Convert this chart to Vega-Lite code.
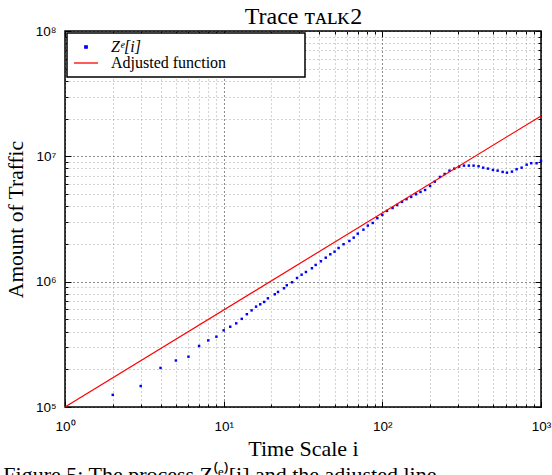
{
  "$schema": "https://vega.github.io/schema/vega-lite/v6.json",
  "width": 476,
  "height": 376,
  "autosize": {"type": "none"},
  "padding": {"left": 65, "top": 31, "right": 11, "bottom": 68},
  "background": "white",
  "title": {
    "text": "Figure 5: The process Z⁽ᵉ⁾[i] and the adjusted line",
    "orient": "bottom",
    "anchor": "start",
    "frame": "bounds",
    "font": "Liberation Serif",
    "fontSize": 22,
    "fontWeight": "normal",
    "color": "black",
    "offset": 5,
    "dx": -2
  },
  "config": {
    "view": {"stroke": "black", "strokeWidth": 1.5},
    "legend": {
      "orient": "none",
      "legendX": 2,
      "legendY": 2,
      "padding": 6,
      "fillColor": "white",
      "strokeColor": "black",
      "symbolSize": 576,
      "symbolOffset": 5,
      "clipHeight": 16,
      "rowPadding": 0,
      "labelOffset": 17,
      "labelFont": "Liberation Serif",
      "labelFontSize": 16,
      "labelColor": "black",
      "labelLimit": 600
    }
  },
  "datasets": {
    "trace": [
      {"i": 2, "traffic": 125000, "series": "Zᵉ[i]"},
      {"i": 3, "traffic": 147000, "series": "Zᵉ[i]"},
      {"i": 4, "traffic": 205000, "series": "Zᵉ[i]"},
      {"i": 5, "traffic": 235000, "series": "Zᵉ[i]"},
      {"i": 6, "traffic": 252000, "series": "Zᵉ[i]"},
      {"i": 7, "traffic": 307000, "series": "Zᵉ[i]"},
      {"i": 8, "traffic": 340000, "series": "Zᵉ[i]"},
      {"i": 9, "traffic": 364000, "series": "Zᵉ[i]"},
      {"i": 10, "traffic": 409000, "series": "Zᵉ[i]"},
      {"i": 11, "traffic": 437000, "series": "Zᵉ[i]"},
      {"i": 12, "traffic": 465000, "series": "Zᵉ[i]"},
      {"i": 13, "traffic": 505000, "series": "Zᵉ[i]"},
      {"i": 14, "traffic": 550000, "series": "Zᵉ[i]"},
      {"i": 15, "traffic": 590000, "series": "Zᵉ[i]"},
      {"i": 16, "traffic": 632000, "series": "Zᵉ[i]"},
      {"i": 17, "traffic": 660000, "series": "Zᵉ[i]"},
      {"i": 18, "traffic": 689000, "series": "Zᵉ[i]"},
      {"i": 19, "traffic": 737000, "series": "Zᵉ[i]"},
      {"i": 21, "traffic": 793000, "series": "Zᵉ[i]"},
      {"i": 22, "traffic": 828000, "series": "Zᵉ[i]"},
      {"i": 24, "traffic": 886000, "series": "Zᵉ[i]"},
      {"i": 25, "traffic": 936000, "series": "Zᵉ[i]"},
      {"i": 27, "traffic": 989000, "series": "Zᵉ[i]"},
      {"i": 29, "traffic": 1070000, "series": "Zᵉ[i]"},
      {"i": 31, "traffic": 1137000, "series": "Zᵉ[i]"},
      {"i": 33, "traffic": 1195000, "series": "Zᵉ[i]"},
      {"i": 36, "traffic": 1280000, "series": "Zᵉ[i]"},
      {"i": 38, "traffic": 1360000, "series": "Zᵉ[i]"},
      {"i": 41, "traffic": 1455000, "series": "Zᵉ[i]"},
      {"i": 44, "traffic": 1554000, "series": "Zᵉ[i]"},
      {"i": 47, "traffic": 1654000, "series": "Zᵉ[i]"},
      {"i": 50, "traffic": 1735000, "series": "Zᵉ[i]"},
      {"i": 53, "traffic": 1857000, "series": "Zᵉ[i]"},
      {"i": 57, "traffic": 1989000, "series": "Zᵉ[i]"},
      {"i": 62, "traffic": 2112000, "series": "Zᵉ[i]"},
      {"i": 66, "traffic": 2245000, "series": "Zᵉ[i]"},
      {"i": 70, "traffic": 2416000, "series": "Zᵉ[i]"},
      {"i": 76, "traffic": 2600000, "series": "Zᵉ[i]"},
      {"i": 81, "traffic": 2800000, "series": "Zᵉ[i]"},
      {"i": 87, "traffic": 2940000, "series": "Zᵉ[i]"},
      {"i": 93, "traffic": 3210000, "series": "Zᵉ[i]"},
      {"i": 100, "traffic": 3410000, "series": "Zᵉ[i]"},
      {"i": 107, "traffic": 3670000, "series": "Zᵉ[i]"},
      {"i": 116, "traffic": 3870000, "series": "Zᵉ[i]"},
      {"i": 124, "traffic": 4090000, "series": "Zᵉ[i]"},
      {"i": 133, "traffic": 4330000, "series": "Zᵉ[i]"},
      {"i": 142, "traffic": 4550000, "series": "Zᵉ[i]"},
      {"i": 152, "traffic": 4740000, "series": "Zᵉ[i]"},
      {"i": 163, "traffic": 4980000, "series": "Zᵉ[i]"},
      {"i": 174, "traffic": 5200000, "series": "Zᵉ[i]"},
      {"i": 186, "traffic": 5390000, "series": "Zᵉ[i]"},
      {"i": 200, "traffic": 5800000, "series": "Zᵉ[i]"},
      {"i": 214, "traffic": 6280000, "series": "Zᵉ[i]"},
      {"i": 231, "traffic": 6850000, "series": "Zᵉ[i]"},
      {"i": 247, "traffic": 7230000, "series": "Zᵉ[i]"},
      {"i": 265, "traffic": 7690000, "series": "Zᵉ[i]"},
      {"i": 284, "traffic": 7980000, "series": "Zᵉ[i]"},
      {"i": 305, "traffic": 8280000, "series": "Zᵉ[i]"},
      {"i": 327, "traffic": 8430000, "series": "Zᵉ[i]"},
      {"i": 351, "traffic": 8430000, "series": "Zᵉ[i]"},
      {"i": 376, "traffic": 8430000, "series": "Zᵉ[i]"},
      {"i": 404, "traffic": 8340000, "series": "Zᵉ[i]"},
      {"i": 432, "traffic": 8120000, "series": "Zᵉ[i]"},
      {"i": 463, "traffic": 7980000, "series": "Zᵉ[i]"},
      {"i": 498, "traffic": 7790000, "series": "Zᵉ[i]"},
      {"i": 533, "traffic": 7690000, "series": "Zᵉ[i]"},
      {"i": 573, "traffic": 7510000, "series": "Zᵉ[i]"},
      {"i": 610, "traffic": 7410000, "series": "Zᵉ[i]"},
      {"i": 656, "traffic": 7550000, "series": "Zᵉ[i]"},
      {"i": 702, "traffic": 7890000, "series": "Zᵉ[i]"},
      {"i": 755, "traffic": 8120000, "series": "Zᵉ[i]"},
      {"i": 812, "traffic": 8580000, "series": "Zᵉ[i]"},
      {"i": 868, "traffic": 8810000, "series": "Zᵉ[i]"},
      {"i": 938, "traffic": 8810000, "series": "Zᵉ[i]"},
      {"i": 1000, "traffic": 9190000, "series": "Zᵉ[i]"}
    ],
    "fit": [
      {"i": 1, "traffic": 100000, "series": "Adjusted function"},
      {"i": 1000, "traffic": 21000000, "series": "Adjusted function"}
    ]
  },
  "layer": [
    {
      "data": {"name": "trace"},
      "mark": {"type": "square", "filled": true, "size": 6, "opacity": 1},
      "encoding": {
        "x": {
          "field": "i",
          "type": "quantitative",
          "scale": {"type": "log", "domain": [1, 1000], "nice": false},
          "axis": {
            "orient": "bottom",
            "values": [1, 2, 3, 4, 5, 6, 7, 8, 9, 10, 20, 30, 40, 50, 60, 70, 80, 90, 100, 200, 300, 400, 500, 600, 700, 800, 900, 1000],
            "labelExpr": "datum.value === 1 ? '10⁰' : datum.value === 10 ? '10¹' : datum.value === 100 ? '10²' : datum.value === 1000 ? '10³' : ''",
            "domain": false,
            "grid": true,
            "gridColor": {"condition": {"test": "indexof([1, 10, 100, 1000], datum.value) >= 0", "value": "#000000"}, "value": "#9a9a9a"},
            "gridDash": [1, 3],
            "gridWidth": 0.9,
            "tickColor": "black",
            "tickWidth": 1,
            "tickSize": {"condition": {"test": "indexof([1, 10, 100, 1000], datum.value) >= 0", "value": -6}, "value": -3},
            "labelFont": "Liberation Sans",
            "labelFontSize": 13.5,
            "labelColor": "black",
            "labelPadding": 18,
            "labelFlush": false,
            "labelOverlap": false,
            "title": "Time Scale i",
            "titleFont": "Liberation Serif",
            "titleFontSize": 22,
            "titleFontWeight": "normal",
            "titleColor": "black",
            "titlePadding": 3
          }
        },
        "y": {
          "field": "traffic",
          "type": "quantitative",
          "scale": {"type": "log", "domain": [100000, 100000000], "nice": false},
          "axis": {
            "orient": "left",
            "values": [100000, 200000, 300000, 400000, 500000, 600000, 700000, 800000, 900000, 1000000, 2000000, 3000000, 4000000, 5000000, 6000000, 7000000, 8000000, 9000000, 10000000, 20000000, 30000000, 40000000, 50000000, 60000000, 70000000, 80000000, 90000000, 100000000],
            "labelExpr": "datum.value === 100000 ? '10⁵' : datum.value === 1000000 ? '10⁶' : datum.value === 10000000 ? '10⁷' : datum.value === 100000000 ? '10⁸' : ''",
            "domain": false,
            "grid": true,
            "gridColor": {"condition": {"test": "indexof([100000, 1000000, 10000000, 100000000], datum.value) >= 0", "value": "#000000"}, "value": "#9a9a9a"},
            "gridDash": [1, 3],
            "gridWidth": 0.9,
            "tickColor": "black",
            "tickWidth": 1,
            "tickSize": {"condition": {"test": "indexof([100000, 1000000, 10000000, 100000000], datum.value) >= 0", "value": -6}, "value": -3},
            "labelFont": "Liberation Sans",
            "labelFontSize": 13.5,
            "labelColor": "black",
            "labelPadding": 15,
            "labelFlush": false,
            "labelOverlap": false,
            "title": "Amount of Traffic",
            "titleFont": "Liberation Serif",
            "titleFontSize": 21.5,
            "titleFontWeight": "normal",
            "titleColor": "black",
            "titlePadding": 8
          }
        },
        "color": {
          "field": "series",
          "type": "nominal",
          "scale": {"domain": ["Zᵉ[i]", "Adjusted function"], "range": ["#0000ff", "#ff0000"]},
          "legend": {
            "title": null,
            "encode": {
              "legend": {"update": {"strokeWidth": {"value": 1.5}}},
              "symbols": {
                "update": {
                  "shape": {"signal": "datum.value === 'Adjusted function' ? 'stroke' : 'square'"},
                  "size": {"signal": "datum.value === 'Adjusted function' ? 576 : 6"},
                  "fill": {"signal": "datum.value === 'Adjusted function' ? 'transparent' : '#0000ff'"},
                  "stroke": {"signal": "datum.value === 'Adjusted function' ? '#ff0000' : 'transparent'"},
                  "strokeWidth": {"value": 1.3},
                  "opacity": {"value": 1}
                }
              },
              "labels": {
                "update": {
                  "text": {"signal": "datum.label + '\u00a0\u00a0\u00a0\u00a0\u00a0\u00a0\u00a0\u00a0\u00a0\u00a0\u00a0\u00a0\u00a0\u00a0\u00a0\u00a0\u00a0\u00a0\u200b'"},
                  "fontStyle": {"signal": "datum.value === 'Adjusted function' ? 'normal' : 'italic'"}
                }
              }
            }
          }
        }
      }
    },
    {
      "data": {"name": "fit"},
      "mark": {"type": "line", "strokeWidth": 1.2},
      "encoding": {
        "x": {
          "field": "i",
          "type": "quantitative",
          "scale": {"type": "log", "domain": [1, 1000], "nice": false},
          "axis": {
            "orient": "top",
            "values": [1, 2, 3, 4, 5, 6, 7, 8, 9, 10, 20, 30, 40, 50, 60, 70, 80, 90, 100, 200, 300, 400, 500, 600, 700, 800, 900, 1000],
            "labels": false,
            "grid": false,
            "domain": false,
            "title": "Trace ᴛᴀʟᴋ2",
            "titleFont": "Liberation Serif",
            "titleFontSize": 24,
            "titleFontWeight": "normal",
            "titleColor": "black",
            "titlePadding": 2,
            "tickColor": "black",
            "tickWidth": 1,
            "tickSize": {"condition": {"test": "indexof([1, 10, 100, 1000], datum.value) >= 0", "value": -6}, "value": -3}
          }
        },
        "y": {
          "field": "traffic",
          "type": "quantitative",
          "scale": {"type": "log", "domain": [100000, 100000000], "nice": false},
          "axis": {
            "orient": "right",
            "values": [100000, 200000, 300000, 400000, 500000, 600000, 700000, 800000, 900000, 1000000, 2000000, 3000000, 4000000, 5000000, 6000000, 7000000, 8000000, 9000000, 10000000, 20000000, 30000000, 40000000, 50000000, 60000000, 70000000, 80000000, 90000000, 100000000],
            "labels": false,
            "grid": false,
            "domain": false,
            "title": null,
            "tickColor": "black",
            "tickWidth": 1,
            "tickSize": {"condition": {"test": "indexof([100000, 1000000, 10000000, 100000000], datum.value) >= 0", "value": -6}, "value": -3}
          }
        },
        "color": {
          "field": "series",
          "type": "nominal",
          "legend": {
            "title": null,
            "encode": {
              "legend": {"update": {"strokeWidth": {"value": 1.5}}},
              "symbols": {
                "update": {
                  "shape": {"signal": "datum.value === 'Adjusted function' ? 'stroke' : 'square'"},
                  "size": {"signal": "datum.value === 'Adjusted function' ? 576 : 6"},
                  "fill": {"signal": "datum.value === 'Adjusted function' ? 'transparent' : '#0000ff'"},
                  "stroke": {"signal": "datum.value === 'Adjusted function' ? '#ff0000' : 'transparent'"},
                  "strokeWidth": {"value": 1.3},
                  "opacity": {"value": 1}
                }
              },
              "labels": {
                "update": {
                  "text": {"signal": "datum.label + '\u00a0\u00a0\u00a0\u00a0\u00a0\u00a0\u00a0\u00a0\u00a0\u00a0\u00a0\u00a0\u00a0\u00a0\u00a0\u00a0\u00a0\u00a0\u200b'"},
                  "fontStyle": {"signal": "datum.value === 'Adjusted function' ? 'normal' : 'italic'"}
                }
              }
            }
          }
        }
      }
    }
  ],
  "resolve": {"axis": {"x": "independent", "y": "independent"}}
}
